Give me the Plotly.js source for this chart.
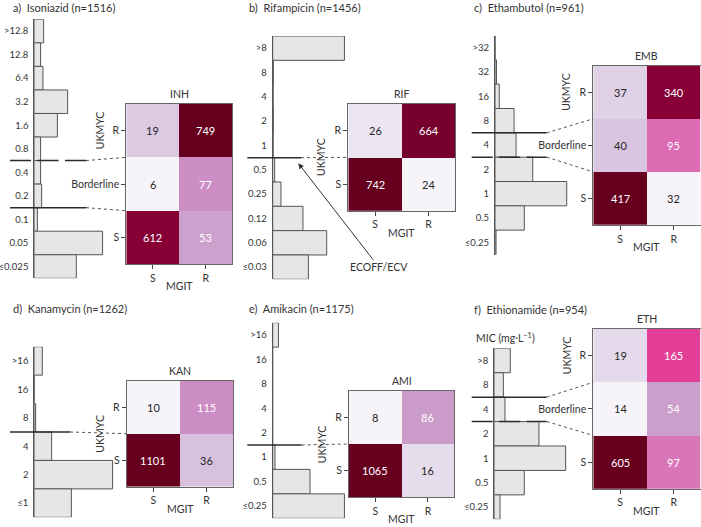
<!DOCTYPE html>
<html><head><meta charset="utf-8">
<script src="https://cdn.plot.ly/plotly-3.0.1.min.js"></script>
<style>html,body{margin:0;padding:0;background:#fff}#chart{width:701px;height:527px}</style>
</head><body><div id="chart"></div>
<script>
// ---------------- data ----------------
const mgitCats = ['S', 'R'];

const inhMic = ['>12.8','12.8','6.4','3.2','1.6','0.8','0.4','0.2','0.1','0.05','\u22640.025'];
const inhHist = [70, 47, 65, 250, 173, 47, 47, 55, 23, 512, 315];
const inhRows = ['R', 'Borderline', 'S'];
const inhMatrix = [[19, 749], [6, 77], [612, 53]];

const rifMic = ['>8','8','4','2','1','0.5','0.25','0.12','0.06','\u22640.03'];
const rifHist = [538, 5, 4, 5, 4, 15, 62, 227, 405, 268];
const rifRows = ['R', 'S'];
const rifMatrix = [[26, 664], [742, 24]];

const embMic = ['>32','32','16','8','4','2','1','0.5','\u22640.25'];
const embHist = [0, 11, 32, 143, 158, 283, 538, 220, 8];
const embRows = ['R', 'Borderline', 'S'];
const embMatrix = [[37, 340], [40, 95], [417, 32]];

const kanMic = ['>16','16','8','4','2','\u22641'];
const kanHist = [60, 0, 10, 130, 587, 278];
const kanRows = ['R', 'S'];
const kanMatrix = [[10, 115], [1101, 36]];

const amiMic = ['>16','16','8','4','2','1','0.5','\u22640.25'];
const amiHist = [43, 0, 0, 0, 0, 17, 280, 538];
const amiRows = ['R', 'S'];
const amiMatrix = [[8, 86], [1065, 16]];

const ethMic = ['>8','8','4','2','1','0.5','\u22640.25'];
const ethHist = [120, 68, 80, 335, 535, 225, 43];
const ethRows = ['R', 'Borderline', 'S'];
const ethMatrix = [[19, 165], [14, 54], [605, 97]];

// ---------------- layout helpers ----------------
const W = 701, H = 527;
const FONT = 'Lato, "Noto Sans", sans-serif';
const TXT = '#333';
const FS = 10.5;
const COUNTS_PER_PX = 7.5;
const HIST_W = 84;
const px = x => x / W, py = y => 1 - y / H;

const panels = [
  {title:'a)\u00a0\u00a0Isoniazid (n=1516)', drug:'INH', mic:inhMic, hist:inhHist, rows:inhRows, mat:inhMatrix,
   tpos:[11, 7.5], hx:34.3, hy:[19.3, 278.3], heat:[126.3, 104, 232.3, 264], lx:[10, 86],
   lines:[{b:5.5, dash:true}, {b:7.5, dash:false}], uk:'R'},
  {title:'b)\u00a0\u00a0Rifampicin (n=1456)', drug:'RIF', mic:rifMic, hist:rifHist, rows:rifRows, mat:rifMatrix,
   tpos:[247.3, 7], hx:272.7, hy:[36, 279.3], heat:[348.3, 104, 455.3, 210.7], lx:[247.3, 301],
   lines:[{b:4.5, dash:false}], uk:0.5},
  {title:'c)\u00a0\u00a0Ethambutol (n=961)', drug:'EMB', mic:embMic, hist:embHist, rows:embRows, mat:embMatrix,
   tpos:[471.7, 7], hx:495, hy:[35.5, 254.5], heat:[593.3, 65.7, 700.5, 225], lx:[471.7, 546.7],
   lines:[{b:3.5, dash:false}, {b:4.5, dash:true}], uk:'R'},
  {title:'d)\u00a0\u00a0Kanamycin (n=1262)', drug:'KAN', mic:kanMic, hist:kanHist, rows:kanRows, mat:kanMatrix,
   tpos:[11, 308.5], hx:34.3, hy:[346.7, 517.3], heat:[126.7, 380.7, 233.3, 486.7], lx:[10, 70],
   lines:[{b:2.5, dash:false}], uk:0.5},
  {title:'e)\u00a0\u00a0Amikacin (n=1175)', drug:'AMI', mic:amiMic, hist:amiHist, rows:amiRows, mat:amiMatrix,
   tpos:[247.3, 308.3], hx:272.7, hy:[322.7, 518.3], heat:[349, 390.7, 454.3, 497.3], lx:[247.3, 301.7],
   lines:[{b:4.5, dash:false}], uk:0.5},
  {title:'f)\u00a0\u00a0Ethionamide (n=954)', drug:'ETH', mic:ethMic, hist:ethHist, rows:ethRows, mat:ethMatrix,
   tpos:[471.7, 309], hx:494.3, hy:[348.3, 519.3], heat:[593.3, 329, 700.5, 488.7], lx:[471.7, 546.7],
   lines:[{b:1.5, dash:false}, {b:2.5, dash:true}], uk:'R'}
];

// PuRd colormap with a power (gamma 0.4) normalisation
const puRd = ['#f7f4f9','#e7e1ef','#d4b9da','#c994c7','#df65b0','#e7298a','#ce1256','#980043','#67001f'];
function hex2rgb(h){return [1,3,5].map(i=>parseInt(h.substr(i,2),16));}
function cmap(t){
  t = Math.max(0, Math.min(1, t));
  const s = t * (puRd.length - 1), i = Math.min(Math.floor(s), puRd.length - 2), f = s - i;
  const a = hex2rgb(puRd[i]), b = hex2rgb(puRd[i+1]);
  return 'rgb(' + a.map((v,k)=>Math.round(v + (b[k]-v)*f)).join(',') + ')';
}
const GAMMA = 0.4;
const colorscale = [];
for (let i = 0; i <= 64; i++) {
  const lvl = i / 64;
  colorscale.push([Math.pow(lvl, 1 / GAMMA), cmap(lvl)]);
}

const axKey = (p, n) => n === 1 ? p + 'axis' : p + 'axis' + n;
const axRef = (p, n) => n === 1 ? p : p + n;

const data = [], shapes = [], annotations = [];
const layout = {
  width: W, height: H, margin: {l:0, r:0, t:0, b:0}, showlegend: false,
  paper_bgcolor: '#fff', plot_bgcolor: 'rgba(0,0,0,0)', bargap: 0,
  font: {family: FONT, size: FS, color: TXT}
};
const tf = {family: FONT, size: FS, color: TXT};
const htf = {family: FONT, size: 9.5, color: TXT};

panels.forEach((p, i) => {
  const hN = i + 1, mN = i + 7;
  const hx = axRef('x', hN), hy = axRef('y', hN), mx = axRef('x', mN), my = axRef('y', mN);
  const n = p.mic.length;

  // histogram
  layout[axKey('x', hN)] = {domain:[px(p.hx), px(p.hx + HIST_W)], range:[0, HIST_W * COUNTS_PER_PX],
    visible:false, anchor:hy, fixedrange:true};
  layout[axKey('y', hN)] = {domain:[py(p.hy[1]), py(p.hy[0])], type:'category', categoryorder:'array',
    categoryarray:p.mic, range:[n - 0.5, -0.5], anchor:hx, showline:true, linecolor:'#555', linewidth:1,
    ticks:'', showgrid:false, zeroline:false, tickfont:htf, ticklabelstandoff:3, fixedrange:true};
  data.push({type:'bar', orientation:'h', x:p.hist, y:p.mic, xaxis:hx, yaxis:hy,
    marker:{color:'#e6e6e6', line:{color:'#555', width:1}}, hoverinfo:'skip'});

  // heatmap
  const [l, t, r, b] = p.heat;
  layout[axKey('x', mN)] = {domain:[px(l), px(r)], type:'category', anchor:my, showline:true, mirror:true,
    linecolor:'#666', linewidth:1, ticks:'outside', ticklen:4, tickcolor:'#444', tickfont:tf,
    showgrid:false, zeroline:false, fixedrange:true};
  layout[axKey('y', mN)] = {domain:[py(b), py(t)], type:'category', autorange:'reversed', anchor:mx,
    showline:true, mirror:true, linecolor:'#666', linewidth:1, ticks:'outside', ticklen:4, tickcolor:'#444',
    tickfont:tf, showgrid:false, zeroline:false, fixedrange:true};
  data.push({type:'heatmap', x:mgitCats, y:p.rows, z:p.mat, xaxis:mx, yaxis:my,
    colorscale:colorscale, showscale:false, hoverinfo:'skip', xgap:0, ygap:0});

  // cell labels
  const flat = p.mat.flat(), mn = Math.min(...flat), mxv = Math.max(...flat);
  p.mat.forEach((row, ri) => row.forEach((c, ci) => {
    const lvl = Math.pow((c - mn) / (mxv - mn), GAMMA);
    annotations.push({x:mgitCats[ci], y:p.rows[ri], xref:mx, yref:my, text:String(c), showarrow:false,
      font:{family:FONT, size:11, color: lvl > 0.28 ? '#ffffff' : '#262626'}});
  }));

  // heatmap title, axis labels, panel title
  annotations.push({text:p.drug, xref:mx + ' domain', yref:my + ' domain', x:0.5, y:1, xanchor:'center',
    yanchor:'bottom', yshift:2, showarrow:false, font:tf});
  annotations.push({text:'MGIT', xref:mx + ' domain', yref:my + ' domain', x:0.5, y:0, xanchor:'center',
    yanchor:'middle', yshift:-22, showarrow:false, font:tf});
  annotations.push({text:'UKMYC', textangle:-90, xref:mx + ' domain', yref:my, x:0, y:p.uk,
    xanchor:'center', yanchor:'middle', xshift:-26.7, showarrow:false, font:tf});
  annotations.push({text:p.title, xref:'paper', yref:'paper', x:px(p.tpos[0]), y:py(p.tpos[1]),
    xanchor:'left', yanchor:'middle', showarrow:false, font:{family:FONT, size:11, color:TXT}});

  // threshold lines and connectors
  p.lines.forEach((ln, k) => {
    shapes.push({type:'line', xref:'paper', yref:hy, x0:px(p.lx[0]), x1:px(p.lx[1]), y0:ln.b, y1:ln.b,
      line:{color:'#2b2b2b', width:1.5, dash: ln.dash ? '21px,6.5px' : 'solid'}});
    const yHist = p.hy[0] + (ln.b + 0.5) / n * (p.hy[1] - p.hy[0]);
    const yHeat = t + (k + 1) / p.rows.length * (b - t);
    shapes.push({type:'line', xref:'paper', yref:'paper', x0:px(p.lx[1]), x1:px(l), y0:py(yHist), y1:py(yHeat),
      line:{color:'#555', width:1, dash:'3px,3px'}});
  });
});

// ECOFF/ECV arrow (panel b)
annotations.push({text:'ECOFF/ECV', xref:'paper', yref:'paper', x:px(298.3), y:py(163.3),
  ax:80.7, ay:104, axref:'pixel', ayref:'pixel', showarrow:true, arrowhead:2, arrowsize:1.1, arrowwidth:1,
  arrowcolor:'#333', standoff:0, font:tf});
// MIC unit label (panel f)
annotations.push({text:'MIC (mg\u00b7L<sup>\u22121</sup>)', xref:'paper', yref:'paper', x:px(474), y:py(337),
  xanchor:'left', yanchor:'middle', showarrow:false, font:tf});

layout.shapes = shapes;
layout.annotations = annotations;

Plotly.newPlot('chart', data, layout, {displayModeBar:false, staticPlot:true});
</script>
</body></html>
